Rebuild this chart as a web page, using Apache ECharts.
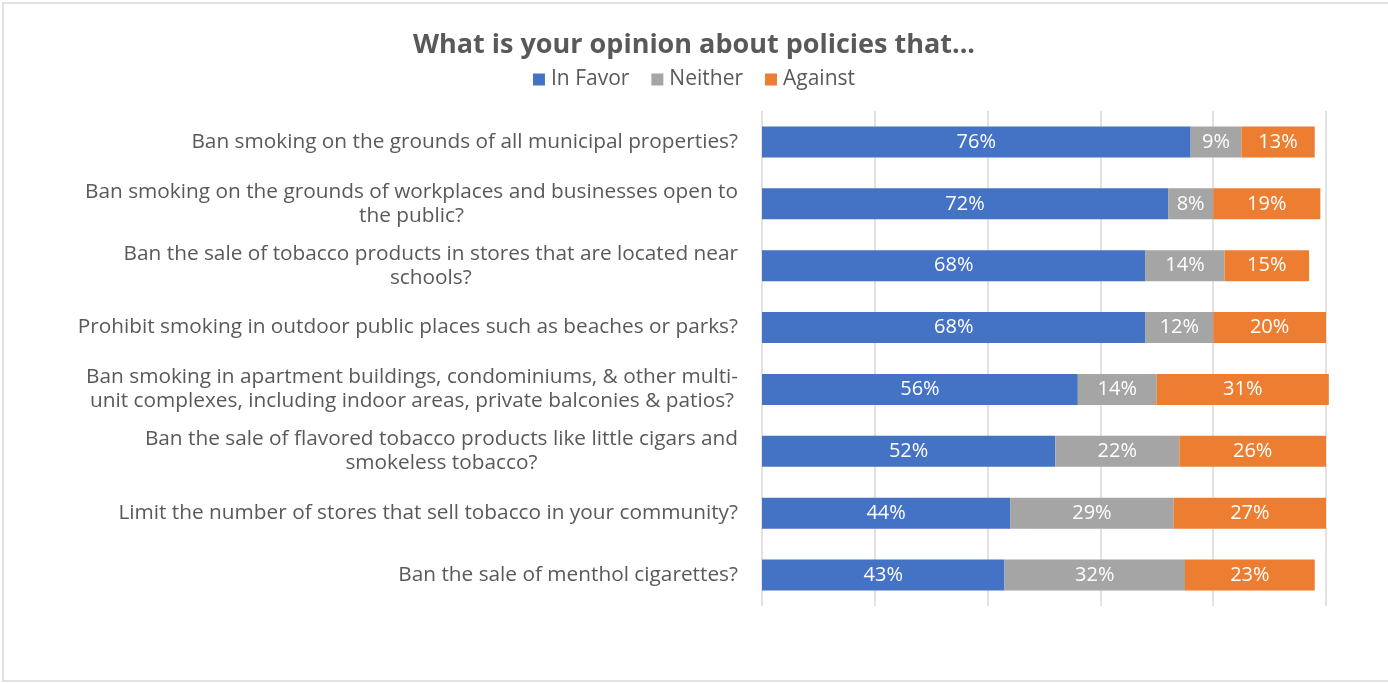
<!DOCTYPE html>
<html>
<head>
<meta charset="utf-8">
<script src="https://cdn.jsdelivr.net/npm/echarts@6/dist/echarts.min.js"></script>
<style>
html,body{margin:0;padding:0;background:#fff;}
#c{width:1388px;height:683px;}
</style>
</head>
<body>
<div id="c"></div>
<script>
const categories = [
  "Ban smoking on the grounds of all municipal properties?",
  "Ban smoking on the grounds of workplaces and businesses open to\nthe public?",
  "Ban the sale of tobacco products in stores that are located near\nschools?",
  "Prohibit smoking in outdoor public places such as beaches or parks?",
  "Ban smoking in apartment buildings, condominiums, & other multi-\nunit complexes, including indoor areas, private balconies & patios?",
  "Ban the sale of flavored tobacco products like little cigars and\nsmokeless tobacco?",
  "Limit the number of stores that sell tobacco in your community?",
  "Ban the sale of menthol cigarettes?"
];
const inFavor = [76, 72, 68, 68, 56, 52, 44, 43];
const neither = [9, 8, 14, 12, 14, 22, 29, 32];
const against = [13, 19, 15, 20, 30.5, 26, 27, 23];
const seriesNames = ["In Favor", "Neither", "Against"];
const colors = ["#4472C4", "#A5A5A5", "#ED7D31"];

const FONT = "Open Sans";
const chart = echarts.init(document.getElementById('c'));
const mk = (name, data, color) => ({
  name: name,
  type: 'bar',
  stack: 'total',
  data: data,
  barWidth: 31,
  clip: false,
  itemStyle: { color: color },
  label: {
    show: true,
    position: 'inside',
    color: '#ffffff',
    fontFamily: FONT,
    fontSize: 20,
    formatter: p => Math.round(p.value) + '%'
  }
});
chart.setOption({
  animation: false,
  textStyle: { fontFamily: FONT },
  title: {
    text: 'What is your opinion about policies that...',
    left: 'center',
    top: 27,
    textStyle: { fontFamily: FONT, fontSize: 27, fontWeight: 'bold', color: '#595959' }
  },
  legend: {
    data: seriesNames,
    left: 'center',
    top: 64,
    icon: 'rect',
    itemWidth: 12,
    itemHeight: 12,
    itemGap: 22,
    textStyle: { fontFamily: FONT, fontSize: 21, color: '#595959', padding: [0, 0, 0, 1] }
  },
  graphic: [{
    type: 'rect',
    shape: { x: 3, y: 3, width: 1400, height: 678 },
    style: { fill: 'none', stroke: '#d9d9d9', lineWidth: 1.5 },
    silent: true, z: -1
  }],
  grid: { left: 762, right: 62, top: 111, bottom: 77, containLabel: false },
  xAxis: {
    type: 'value',
    min: 0, max: 100, interval: 20,
    axisLabel: { show: false },
    axisLine: { show: false },
    axisTick: { show: false },
    splitLine: { show: true, lineStyle: { color: '#d9d9d9', width: 1.5 } }
  },
  yAxis: {
    type: 'category',
    inverse: true,
    data: categories,
    axisLine: { show: false },
    axisTick: { show: false },
    axisLabel: {
      margin: 24,
      fontFamily: FONT,
      fontSize: 20.8,
      color: '#595959',
      lineHeight: 24,
      formatter: v => v.split('\n').map(l => '{c|' + l + '}').join('\n'),
      rich: { c: { align: 'center', fontFamily: FONT, fontSize: 20.8, color: '#595959', lineHeight: 24 } }
    }
  },
  series: [
    mk(seriesNames[0], inFavor, colors[0]),
    mk(seriesNames[1], neither, colors[1]),
    mk(seriesNames[2], against, colors[2])
  ]
});
</script>
</body>
</html>
